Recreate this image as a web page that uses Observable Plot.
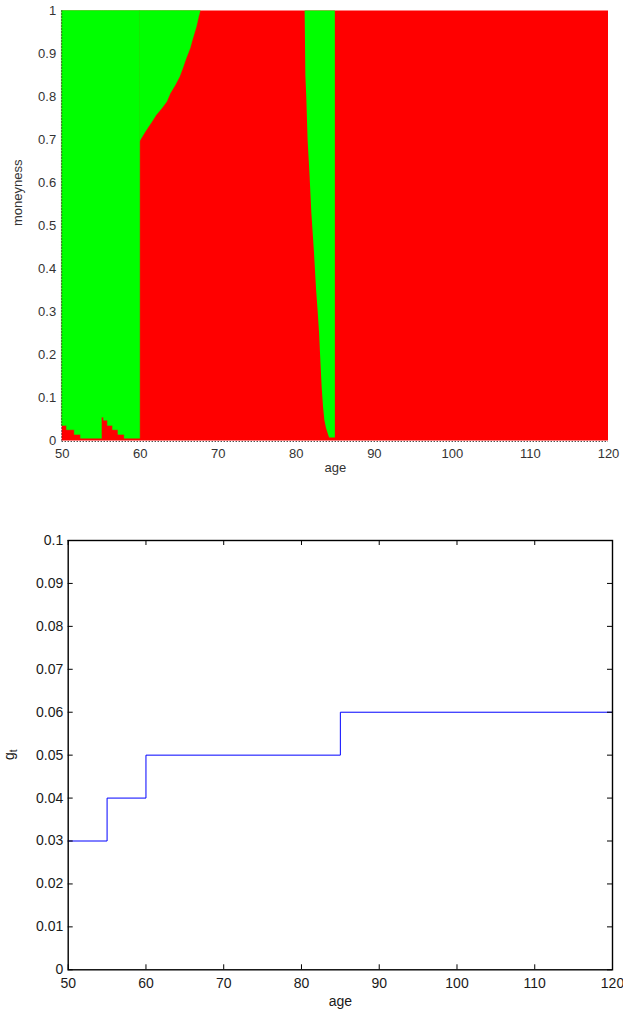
<!DOCTYPE html>
<html>
<head>
<meta charset="utf-8">
<script src="https://cdn.jsdelivr.net/npm/d3@7"></script>
<script src="https://cdn.jsdelivr.net/npm/@observablehq/plot@0.6"></script>
<style>
  body { margin: 0; background: #fff; }
  #chart svg { display: block; }
</style>
</head>
<body>
<div id="chart"></div>
<script>
// ---------- shared axes ----------
const ageDomain = [50, 120];
const ageTicks = [50, 60, 70, 80, 90, 100, 110, 120];

// ---------- exercise region map (age × moneyness) ----------
const moneynessDomain = [0, 1];
const moneynessTicks = [0, 0.1, 0.2, 0.3, 0.4, 0.5, 0.6, 0.7, 0.8, 0.9, 1];
const moneynessTickLabels = ["0", "0.1", "0.2", "0.3", "0.4", "0.5", "0.6", "0.7", "0.8", "0.9", "1"];

// thin red fringe under the early green block (stepped upper edge)
const fringeAges      = [50,    50.6,  51.6,  52.4,  55.1,  55.35, 55.85, 56.5,  57.2,  58,    60];
const fringeMoneyness = [0.035, 0.025, 0.014, 0.005, 0.054, 0.047, 0.035, 0.025, 0.014, 0.005, 0.005];

// lower edge of the green area above the red wedge that opens at 60
const wedgeAges      = [60,    60.7,  61.1,  61.55, 62.1,  62.8,  63.45, 63.9,  64.55, 65.1,  65.5,  65.95, 66.45, 66.8,  67.25, 67.55, 67.75];
const wedgeMoneyness = [0.697, 0.718, 0.729, 0.741, 0.757, 0.772, 0.788, 0.807, 0.827, 0.846, 0.865, 0.889, 0.912, 0.935, 0.962, 0.986, 1];

// green band just before 85: left edge at each moneyness level
const bandMoneyness = [1,     0.85,  0.799, 0.699, 0.613, 0.529, 0.436, 0.35,  0.3,   0.25,  0.187, 0.124, 0.078, 0.048, 0.029, 0.017, 0.007];
const bandLeftAge   = [81.13, 81.22, 81.34, 81.51, 81.77, 81.99, 82.33, 82.6,  82.8,  82.98, 83.14, 83.31, 83.49, 83.65, 83.87, 84.08, 84.26];
const bandRightAge  = [85];

// ---------- g_t schedule ----------
const gDomain = [0, 0.1];
const gTicks = [0, 0.01, 0.02, 0.03, 0.04, 0.05, 0.06, 0.07, 0.08, 0.09, 0.1];
const gTickLabels = ["0", "0.01", "0.02", "0.03", "0.04", "0.05", "0.06", "0.07", "0.08", "0.09", "0.1"];
const gAges   = [50,   55,   60,   85,   120];
const gValues = [0.03, 0.04, 0.05, 0.06, 0.06];

const RED = "#ff0000";
const GREEN = "#00ff00";
const FONT = "'Liberation Sans', Arial, Helvetica, sans-serif";

const fringe = fringeAges.map((age, i) => ({age, m: fringeMoneyness[i]}));
const wedge = wedgeAges.map((age, i) => ({age, m: wedgeMoneyness[i]}));
const band = bandMoneyness.map((m, i) => ({m, left: bandLeftAge[i], right: bandRightAge[0]}));
const gRows = gAges.map((age, i) => ({age, g: gValues[i]}));

const regionChart = Plot.plot({
  width: 623,
  height: 500,
  marginTop: 10.5,
  marginBottom: 59.5,
  marginLeft: 61.7,
  marginRight: 15,
  style: {fontFamily: FONT, fontSize: "13px", background: "#fff", color: "#333"},
  x: {domain: ageDomain},
  y: {domain: moneynessDomain},
  marks: [
    // red everywhere on the grid, green drawn on top
    Plot.rect([ageDomain], {
      x1: d => d[0], x2: d => d[1],
      y1: () => moneynessDomain[0], y2: () => moneynessDomain[1],
      fill: RED
    }),
    Plot.areaY(fringe, {
      x: "age", y1: "m", y2: () => moneynessDomain[1],
      curve: "step-after", fill: GREEN, stroke: GREEN, strokeWidth: 0.4
    }),
    Plot.areaY(wedge, {
      x: "age", y1: "m", y2: () => moneynessDomain[1],
      fill: GREEN, stroke: GREEN, strokeWidth: 0.4
    }),
    Plot.areaX(band, {
      y: "m", x1: "left", x2: "right",
      fill: GREEN
    }),
    // dotted axis lines
    Plot.ruleX([ageDomain[0]], {stroke: "#000", strokeDasharray: "1,2", dx: -0.5}),
    Plot.ruleY([moneynessDomain[0]], {stroke: "#000", strokeDasharray: "1,2", dy: 0.5}),
    Plot.axisX({ticks: ageTicks, tickSize: 0, tickPadding: 8, label: null, fill: "#333"}),
    Plot.axisY({
      ticks: moneynessTicks, tickSize: 0, tickPadding: 6, label: null, fill: "#333",
      tickFormat: d => moneynessTickLabels[moneynessTicks.indexOf(d)]
    }),
    Plot.text(["age"], {text: d => d, frameAnchor: "bottom", dy: 31, fill: "#333", fontSize: 13}),
    Plot.text(["moneyness"], {text: d => d, frameAnchor: "left", dx: -44, rotate: -90, fill: "#333", fontSize: 13})
  ]
});

const bMarginTop = 40, bMarginBottom = 47.7, bHeight = 517;
const bMarginLeft = 67.7, bMarginRight = 11, bWidth = 623;
const plotH = bHeight - bMarginTop - bMarginBottom;
const plotW = bWidth - bMarginLeft - bMarginRight;
const tickLen = 5;

const scheduleChart = Plot.plot({
  width: bWidth,
  height: bHeight,
  marginTop: bMarginTop,
  marginBottom: bMarginBottom,
  marginLeft: bMarginLeft,
  marginRight: bMarginRight,
  style: {fontFamily: FONT, fontSize: "14px", background: "#fff", color: "#1a1a1a"},
  x: {domain: ageDomain},
  y: {domain: gDomain},
  marks: [
    Plot.line(gRows, {x: "age", y: "g", curve: "step-after", stroke: "#0000ff", strokeWidth: 1}),
    // inward ticks on all four sides
    Plot.tickX(ageTicks, {x: d => d, insetTop: plotH - tickLen, stroke: "#000"}),
    Plot.tickX(ageTicks, {x: d => d, insetBottom: plotH - tickLen, stroke: "#000"}),
    Plot.tickY(gTicks, {y: d => d, insetRight: plotW - tickLen, stroke: "#000"}),
    Plot.tickY(gTicks, {y: d => d, insetLeft: plotW - tickLen, stroke: "#000"}),
    Plot.frame({stroke: "#000", strokeWidth: 1.4}),
    Plot.axisX({ticks: ageTicks, tickSize: 0, tickPadding: 8, label: null, fill: "#1a1a1a"}),
    Plot.axisY({
      ticks: gTicks, tickSize: 0, tickPadding: 5, label: null, fill: "#1a1a1a",
      tickFormat: d => gTickLabels[gTicks.indexOf(d)]
    }),
    Plot.text(["age"], {text: d => d, frameAnchor: "bottom", dy: 36, fill: "#1a1a1a", fontSize: 14})
  ]
});

// rotated y label g with subscript t
const yScale = scheduleChart.scale("y");
const yMid = (yScale.apply(gDomain[0]) + yScale.apply(gDomain[1])) / 2;
const gLabel = d3.select(scheduleChart).append("text")
  .attr("transform", `translate(14,${yMid}) rotate(-90)`)
  .attr("text-anchor", "middle")
  .attr("font-family", FONT)
  .attr("font-size", 14)
  .attr("fill", "#1a1a1a");
gLabel.append("tspan").text("g");
gLabel.append("tspan").attr("font-size", 10).attr("dy", 3).text("t");

const chart = document.getElementById("chart");
chart.appendChild(regionChart);
chart.appendChild(scheduleChart);
</script>
</body>
</html>
